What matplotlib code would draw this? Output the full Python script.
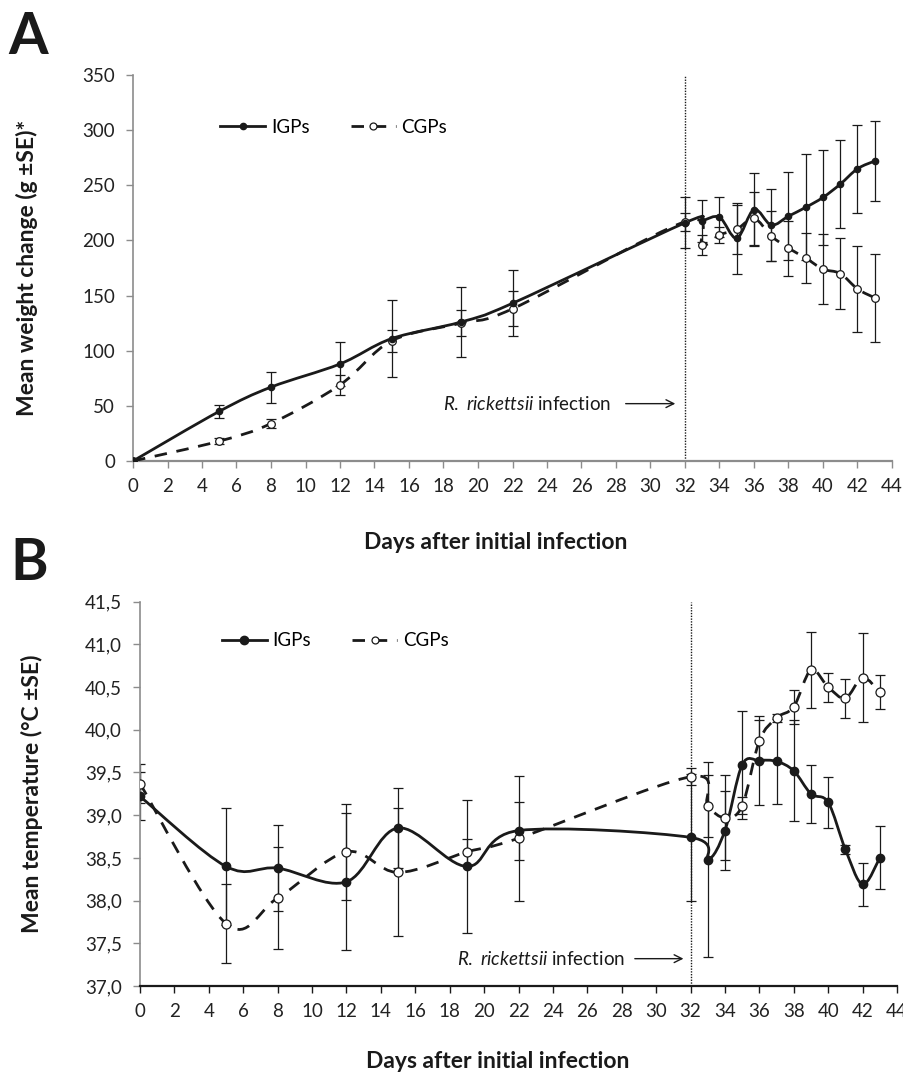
import numpy as np
import matplotlib
matplotlib.use('Agg')
import matplotlib.pyplot as plt
from matplotlib.path import Path
from matplotlib.patches import PathPatch
from matplotlib.lines import Line2D
from matplotlib.ticker import FuncFormatter, MultipleLocator

plt.rcParams['font.family'] = ['Lato', 'DejaVu Sans']
plt.rcParams['mathtext.fontset'] = 'custom'
plt.rcParams['mathtext.rm'] = 'Lato'
plt.rcParams['mathtext.it'] = 'Lato:italic'

# Days sampled
days = [0, 5, 8, 12, 15, 19, 22, 32, 33, 34, 35, 36, 37, 38, 39, 40, 41, 42, 43]

# Panel A: weight change (g)
igp_wt = [0, 45, 67, 88, 111, 126, 143, 216, 218, 221, 202, 228, 214, 222, 230, 239, 251, 265, 272]
igp_wt_se = [0, 6, 14, 20, 35, 32, 30, 23, 19, 18, 32, 33, 33, 40, 48, 43, 40, 40, 36]
cgp_wt = [0, 18, 34, 69, 109, 125, 138, 217, 196, 205, 210, 220, 204, 193, 184, 174, 170, 156, 148]
cgp_wt_se = [0, 3, 4, 9, 10, 12, 16, 8, 9, 7, 22, 24, 23, 25, 23, 32, 32, 39, 40]

# Panel B: temperature (°C)
igp_t = [39.22, 38.40, 38.38, 38.22, 38.85, 38.40, 38.82, 38.74, 38.48, 38.82,
         39.59, 39.64, 39.63, 39.52, 39.25, 39.15, 38.60, 38.19, 38.50]
igp_t_se = [0.28, 0.68, 0.50, 0.80, 0.47, 0.78, 0.34, 0.74, 1.14, 0.46,
            0.63, 0.52, 0.50, 0.59, 0.34, 0.30, 0.05, 0.25, 0.37]
cgp_t = [39.37, 37.73, 38.03, 38.57, 38.33, 38.57, 38.73, 39.45, 39.11, 38.97,
         39.11, 39.87, 40.14, 40.27, 40.70, 40.50, 40.37, 40.61, 40.44]
cgp_t_se = [0.23, 0.46, 0.60, 0.56, 0.75, 0.15, 0.73, 0.10, 0.36, 0.50,
            0.10, 0.24, 0.05, 0.20, 0.44, 0.17, 0.23, 0.52, 0.20]

INK = '#1a1a1a'
GRAY = '#8c8c8c'
FS = 13.5


def smooth_path(x, y):
    # excel-style smoothed line (catmull-rom as bezier)
    pts = np.column_stack([x, y]).astype(float)
    n = len(pts)
    verts = [pts[0]]
    codes = [Path.MOVETO]
    for i in range(n - 1):
        p0 = pts[i - 1] if i > 0 else pts[i]
        p1 = pts[i]
        p2 = pts[i + 1]
        p3 = pts[i + 2] if i + 2 < n else pts[i + 1]
        verts += [p1 + (p2 - p0) / 6, p2 - (p3 - p1) / 6, p2]
        codes += [Path.CURVE4] * 3
    return Path(verts, codes)


def draw_series(ax, y, se, dashed, ms):
    ax.errorbar(days, y, yerr=se, fmt='none', ecolor=INK, elinewidth=0.9,
                capsize=3.5, capthick=0.9, zorder=2)
    ls = (0, (4.5, 3.5)) if dashed else '-'
    ax.add_patch(PathPatch(smooth_path(days, y), fill=False, edgecolor=INK,
                           lw=2.0, linestyle=ls, capstyle='butt', zorder=3))
    if dashed:
        ax.plot(days, y, 'o', ms=ms, mfc='white', mec=INK, mew=0.9, zorder=4)
    else:
        ax.plot(days, y, 'o', ms=ms, mfc=INK, mec=INK, zorder=4)


def style_axes(ax, bottom_color):
    ax.set_xlim(0, 44)
    ax.xaxis.set_major_locator(MultipleLocator(2))
    for s in ['top', 'right']:
        ax.spines[s].set_visible(False)
    ax.spines['left'].set_color(GRAY)
    ax.spines['left'].set_linewidth(1.2)
    ax.spines['bottom'].set_color(bottom_color)
    ax.spines['bottom'].set_linewidth(1.6)
    ax.tick_params(axis='y', direction='out', length=5, width=1, color=GRAY,
                   pad=8, labelsize=FS, labelcolor='#222222')
    ax.tick_params(axis='x', direction='out', length=5, width=1, color=bottom_color,
                   pad=7, labelsize=FS, labelcolor='#222222')
    ax.axvline(32, color=INK, lw=1.0, linestyle=(0, (1, 1)), zorder=1)


def add_legend(ax, ms_igp, ms_cgp, anchor):
    h1 = Line2D([], [], color=INK, lw=2.0, marker='o', ms=ms_igp, mfc=INK, mec=INK)
    h2 = Line2D([], [], color=INK, lw=2.0, linestyle=(0, (4.5, 3.5)), marker='o',
                ms=ms_cgp, mfc='white', mec=INK, mew=0.9)
    ax.legend([h1, h2], ['IGPs', 'CGPs'], ncol=2, frameon=False, fontsize=FS,
              handlelength=2.4, handletextpad=0.3, columnspacing=2.2,
              loc='center left', bbox_to_anchor=anchor, borderaxespad=0)


fig = plt.figure(figsize=(9.04, 10.73), dpi=100)

# ---------------- Panel A ----------------
axA = fig.add_axes([133 / 904, 1 - 461 / 1073, 759 / 904, 386 / 1073])
style_axes(axA, GRAY)
axA.set_ylim(0, 350)
axA.yaxis.set_major_locator(MultipleLocator(50))
draw_series(axA, cgp_wt, cgp_wt_se, True, 5.5)
draw_series(axA, igp_wt, igp_wt_se, False, 4.5)
add_legend(axA, 4.5, 5, (0.105, 0.865))
axA.set_ylabel('Mean weight change (g ±SE)*', fontsize=16.5, fontweight='bold', color=INK)
axA.yaxis.set_label_coords(-0.125, 0.5)
axA.set_xlabel('Days after initial infection', fontsize=16.5, fontweight='bold', color=INK)
axA.xaxis.set_label_coords(0.478, -0.185)
axA.annotate('', xy=(31.6, 52), xytext=(28.4, 52),
             arrowprops=dict(arrowstyle='->', color=INK, lw=1.0, mutation_scale=14))
axA.text(27.7, 52, r'$\mathit{R.}$ $\mathit{rickettsii}$ infection', ha='right', va='center',
         fontsize=FS, color=INK)
fig.text(8 / 904, 1 - 54 / 1073, 'A', fontsize=41, fontweight='bold', color=INK)

# ---------------- Panel B ----------------
axB = fig.add_axes([140 / 904, 1 - 986 / 1073, 757 / 904, 384.3 / 1073])
style_axes(axB, INK)
axB.set_ylim(37.0, 41.5)
axB.yaxis.set_major_locator(MultipleLocator(0.5))
axB.yaxis.set_major_formatter(FuncFormatter(lambda v, p: f'{v:.1f}'.replace('.', ',')))
draw_series(axB, cgp_t, cgp_t_se, True, 6.5)
draw_series(axB, igp_t, igp_t_se, False, 6)
add_legend(axB, 6, 5, (0.098, 0.898))
axB.set_ylabel('Mean temperature (°C ±SE)', fontsize=16.5, fontweight='bold', color=INK)
axB.yaxis.set_label_coords(-0.128, 0.5)
axB.set_xlabel('Days after initial infection', fontsize=16.5, fontweight='bold', color=INK)
axB.xaxis.set_label_coords(0.472, -0.17)
axB.annotate('', xy=(31.75, 37.32), xytext=(28.6, 37.32),
             arrowprops=dict(arrowstyle='->', color=INK, lw=1.0, mutation_scale=14))
axB.text(28.2, 37.32, r'$\mathit{R.}$ $\mathit{rickettsii}$ infection', ha='right', va='center',
         fontsize=FS, color=INK)
fig.text(10 / 904, 1 - 580 / 1073, 'B', fontsize=41, fontweight='bold', color=INK)

fig.savefig('out.png', dpi=100)
